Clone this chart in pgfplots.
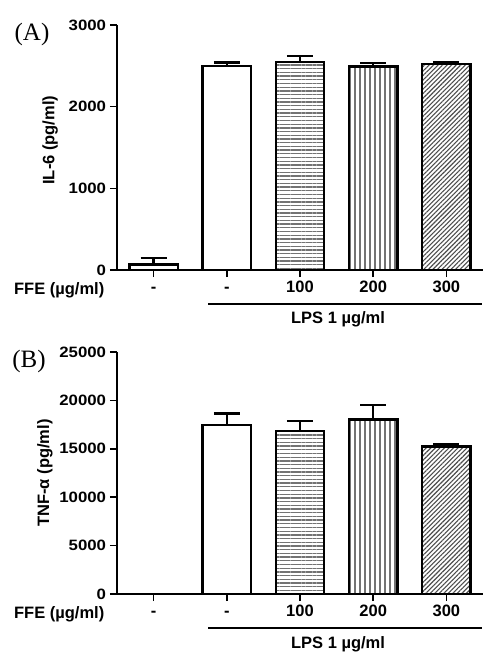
\documentclass[border=0pt]{standalone}
\usepackage{fontspec}
\setmainfont{Liberation Serif}
\setsansfont{Liberation Sans}
\usepackage{pgfplots}
\pgfplotsset{compat=1.18}
\usetikzlibrary{patterns.meta}

\newcommand{\tickfont}{\sffamily\bfseries\fontsize{15}{15}\selectfont}
\newcommand{\labfont}{\sffamily\bfseries\fontsize{16.5}{16.5}\selectfont}

\pgfplotsset{
  panel/.style={
    scale only axis, width=366pt,
    axis lines*=left,
    axis line style={line width=1.6pt, black},
    xmin=-0.5, xmax=4.5, ymin=0,
    xtick={0,1,2,3,4}, xticklabels={-,-,100,200,300},
    tick align=outside, major tick length=7pt,
    tick style={line width=1.6pt, black},
    /pgf/number format/assume math mode=true,
    /pgf/number format/1000 sep={},
    scaled y ticks=false,
    yticklabel style={font=\tickfont, xscale=1.12},
    xticklabel style={font=\labfont, text height=12pt, text depth=0pt},
    clip=false,
    error bars/y dir=plus,
    error bars/y explicit,
    error bars/error bar style={line width=2.3pt, black, solid},
    error bars/error mark options={rotate=90, line width=2.3pt, mark size=13pt, black, solid},
  },
  barbase/.style={ybar, bar width=0.66, bar shift=0pt, draw=black, line width=2.5pt},
  b1/.style={barbase, fill=white},
  b2/.style={barbase, fill=white},
  b3/.style={barbase, pattern={Lines[angle=0, distance=3.7pt, line width=1.3pt]}, pattern color=black!55},
  b4/.style={barbase, pattern={Lines[angle=90, distance=5pt, line width=1.2pt]}, pattern color=black!55},
  b5/.style={barbase, pattern={Lines[angle=45, distance=3.2pt, line width=1.1pt]}, pattern color=black!70},
}

\begin{document}
\begin{tikzpicture}
\path[use as bounding box] (0,0) rectangle (487pt,-657pt);

% ---------- Panel A ----------
\begin{axis}[panel, at={(117pt,-270pt)}, anchor=south west, height=245pt,
  ymax=3000, ytick={0,1000,2000,3000},
  ylabel={IL-6 (pg/ml)},
  every axis y label/.style={at={(axis description cs:-0.183,0.53)}, anchor=center, rotate=90, font=\labfont}]
\addplot[b1] coordinates {(0,70) +- (0,73)};
\addplot[b2] coordinates {(1,2500) +- (0,40)};
\addplot[b3] coordinates {(2,2545) +- (0,75)};
\addplot[b4] coordinates {(3,2490) +- (0,45)};
\addplot[b5] coordinates {(4,2520) +- (0,25)};
\node[font=\labfont, anchor=base east, yshift=-24pt] at (axis description cs:-0.025,0) {FFE (µg/ml)};
\draw[line width=1.6pt] ([yshift=-34pt]axis cs:0.75,0) -- ([yshift=-34pt]axis cs:4.48,0);
\node[font=\labfont, anchor=base, yshift=-53pt] at (axis cs:2.52,0) {LPS 1 µg/ml};
\end{axis}

% ---------- Panel B ----------
\begin{axis}[panel, at={(117pt,-594pt)}, anchor=south west, height=242pt,
  ymax=25000, ytick={0,5000,10000,15000,20000,25000},
  ylabel={TNF-α (pg/ml)},
  every axis y label/.style={at={(axis description cs:-0.197,0.5)}, anchor=center, rotate=90, font=\labfont}]
\addplot[b2] coordinates {(1,17450) +- (0,1200)};
\addplot[b3] coordinates {(2,16850) +- (0,1040)};
\addplot[b4] coordinates {(3,18030) +- (0,1510)};
\addplot[b5] coordinates {(4,15250) +- (0,240)};
\node[font=\labfont, anchor=base east, yshift=-24pt] at (axis description cs:-0.025,0) {FFE (µg/ml)};
\draw[line width=1.6pt] ([yshift=-34pt]axis cs:0.75,0) -- ([yshift=-34pt]axis cs:4.48,0);
\node[font=\labfont, anchor=base, yshift=-54pt] at (axis cs:2.52,0) {LPS 1 µg/ml};
\end{axis}

\node[font=\fontsize{25}{25}\selectfont] at (32pt,-34pt) {(A)};
\node[font=\fontsize{25}{25}\selectfont] at (29pt,-361pt) {(B)};
\end{tikzpicture}
\end{document}
